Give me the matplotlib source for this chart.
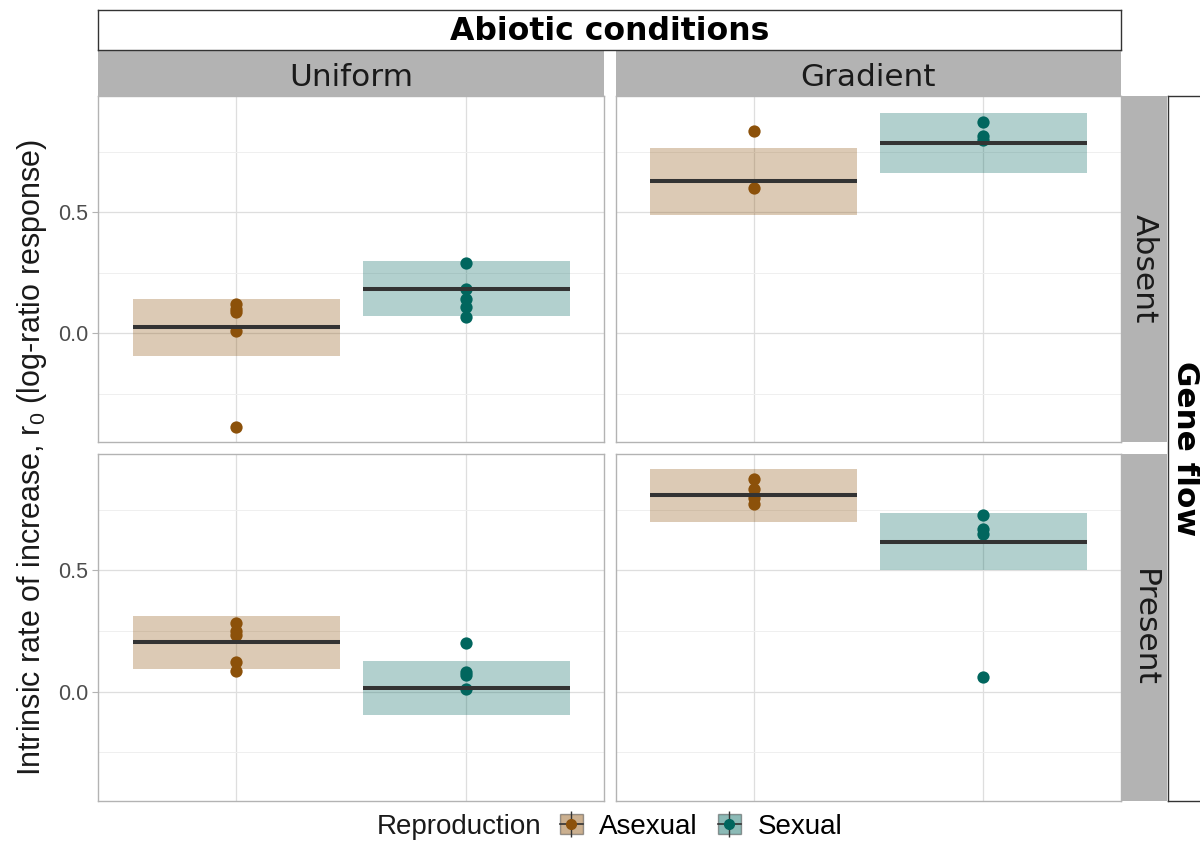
import matplotlib
matplotlib.use("Agg")
import matplotlib.pyplot as plt
from matplotlib.patches import Patch
from matplotlib.lines import Line2D
from matplotlib.legend_handler import HandlerTuple
from matplotlib.ticker import FixedLocator

plt.rcParams['font.family'] = ['Liberation Sans', 'DejaVu Sans']
plt.rcParams['mathtext.fontset'] = 'custom'
plt.rcParams['mathtext.rm'] = 'Liberation Sans'
plt.rcParams['mathtext.it'] = 'Liberation Sans:italic'

# ---------------- data ----------------
gene_flow = ["Absent", "Present"]
abiotic = ["Uniform", "Gradient"]
reproduction = ["Asexual", "Sexual"]
# panel order: Absent-Uniform, Absent-Gradient, Present-Uniform, Present-Gradient
mean_asexual = [0.024, 0.627, 0.207, 0.809]
lower_asexual = [-0.095, 0.490, 0.096, 0.700]
upper_asexual = [0.140, 0.764, 0.314, 0.917]
mean_sexual = [0.183, 0.786, 0.015, 0.619]
lower_sexual = [0.070, 0.660, -0.096, 0.500]
upper_sexual = [0.297, 0.910, 0.125, 0.736]
points_asexual = [
    [0.120, 0.100, 0.087, 0.007, -0.390],
    [0.836, 0.599],
    [0.284, 0.252, 0.234, 0.123, 0.084],
    [0.879, 0.836, 0.800, 0.776],
]
points_sexual = [
    [0.290, 0.182, 0.142, 0.106, 0.066],
    [0.873, 0.815, 0.800],
    [0.202, 0.080, 0.070, 0.012],
    [0.727, 0.669, 0.649, 0.062],
]
y_ticks = [0.0, 0.5]
y_tick_labels = ["0.0", "0.5"]

colors = {"Asexual": "#8c510a", "Sexual": "#01665e"}

# ---------------- figure ----------------
W, H = 1200, 843
fig = plt.figure(figsize=(W / 100, H / 100), dpi=100)

def fbox(x0, y0, x1, y1):
    """pixel box (top-left origin) -> figure fraction rect"""
    return [x0 / W, 1 - y1 / H, (x1 - x0) / W, (y1 - y0) / H]

col_x = [(98, 604), (616, 1121)]
row_y = [(96, 442), (454, 801)]
strip_col = "#b3b3b3"

means = {"Asexual": mean_asexual, "Sexual": mean_sexual}
lowers = {"Asexual": lower_asexual, "Sexual": lower_sexual}
uppers = {"Asexual": upper_asexual, "Sexual": upper_sexual}
pts = {"Asexual": points_asexual, "Sexual": points_sexual}

for r in range(2):
    for c in range(2):
        k = r * 2 + c
        ax = fig.add_axes(fbox(col_x[c][0], row_y[r][0], col_x[c][1], row_y[r][1]))
        ax.set_xlim(0.4, 2.6)
        ax.set_ylim(-0.45, 0.98)
        for i, rep in enumerate(reproduction):
            xpos = i + 1
            ax.bar(xpos, uppers[rep][k] - lowers[rep][k], bottom=lowers[rep][k],
                   width=0.9, color=colors[rep], alpha=0.3, linewidth=0, zorder=2)
            ax.scatter([xpos] * len(pts[rep][k]), pts[rep][k], s=78,
                       color=colors[rep], linewidths=0, zorder=3)
            ax.plot([xpos - 0.45, xpos + 0.45], [means[rep][k]] * 2,
                    color="#333333", lw=2.9, solid_capstyle="butt", zorder=4)
        ax.set_xticks([1, 2])
        ax.set_xticklabels([])
        ax.tick_params(axis="x", length=0)
        ax.yaxis.set_major_locator(FixedLocator(y_ticks))
        ax.yaxis.set_minor_locator(FixedLocator([-0.25, 0.25, 0.75]))
        if c == 0:
            ax.set_yticklabels(y_tick_labels, fontsize=15.5, color="#4d4d4d")
            ax.tick_params(axis="y", which="major", length=4, width=0.8,
                           color="#b3b3b3", pad=3)
        else:
            ax.set_yticklabels([])
            ax.tick_params(axis="y", which="major", length=0)
        ax.tick_params(axis="y", which="minor", length=0)
        ax.grid(True, which="major", color="#dedede", lw=0.9, zorder=0)
        ax.grid(True, which="minor", axis="y", color="#efefef", lw=0.7, zorder=0)
        ax.set_axisbelow(True)
        for s in ax.spines.values():
            s.set_color("#b3b3b3")
            s.set_linewidth(1.0)

# top strips
for c in range(2):
    sax = fig.add_axes(fbox(col_x[c][0], 51, col_x[c][1], 96))
    sax.set_facecolor(strip_col)
    sax.set_xticks([]); sax.set_yticks([])
    for s in sax.spines.values():
        s.set_visible(False)
    sax.text(0.5, 0.42, abiotic[c], ha="center", va="center", fontsize=22.4,
             family="DejaVu Sans", color="#1a1a1a", transform=sax.transAxes)

# right strips
for r in range(2):
    sax = fig.add_axes(fbox(1122, row_y[r][0], 1167, row_y[r][1]))
    sax.set_facecolor(strip_col)
    sax.set_xticks([]); sax.set_yticks([])
    for s in sax.spines.values():
        s.set_visible(False)
    sax.text(0.5, 0.5, gene_flow[r], ha="center", va="center", fontsize=22.6,
             family="DejaVu Sans", color="#1a1a1a", rotation=-90,
             transform=sax.transAxes)

# "Abiotic conditions" outer box
tax = fig.add_axes(fbox(98, 10, 1121, 50))
tax.set_xticks([]); tax.set_yticks([])
for s in tax.spines.values():
    s.set_color("#333333"); s.set_linewidth(1.0)
tax.text(0.5, 0.47, "Abiotic conditions", ha="center", va="center",
         fontsize=22.7, fontweight="bold", family="DejaVu Sans",
         transform=tax.transAxes)

# "Gene flow" outer box
gax = fig.add_axes(fbox(1168, 96, 1215, 801))
gax.set_xticks([]); gax.set_yticks([])
for s in gax.spines.values():
    s.set_color("#333333"); s.set_linewidth(1.0)
gax.text(0.37, 0.5, "Gene flow", ha="center", va="center", fontsize=22.4,
         fontweight="bold", family="DejaVu Sans", rotation=-90,
         transform=gax.transAxes)

# y label
fig.text(32 / W, 1 - 457 / H,
         "Intrinsic rate of increase, r$_0$ (log-ratio response)",
         rotation=90, ha="center", va="center", fontsize=22, color="#1a1a1a")

# legend
fig.text(459 / W, 1 - 827 / H, "Reproduction", ha="center", va="center",
         fontsize=20, color="#1a1a1a")
handles = []
for rep in reproduction:
    handles.append((
        Patch(facecolor=colors[rep], alpha=0.45, edgecolor="#333333", linewidth=1.0),
        Line2D([], [], color="#333333", lw=1.2),
        Line2D([], [], marker="|", markersize=19, color="#333333", linestyle="none",
               markeredgewidth=1.0),
        Line2D([], [], marker="o", markersize=7, color=colors[rep], linestyle="none"),
    ))
leg = fig.legend(handles, reproduction, loc="center",
                 bbox_to_anchor=(701 / W, 1 - 827 / H), ncol=2, frameon=False,
                 fontsize=20, handler_map={tuple: HandlerTuple(ndivide=1, pad=0)},
                 handlelength=0.82, handleheight=0.75, handletextpad=0.6,
                 columnspacing=0.72, borderpad=0)

fig.savefig("out.png", dpi=100)
